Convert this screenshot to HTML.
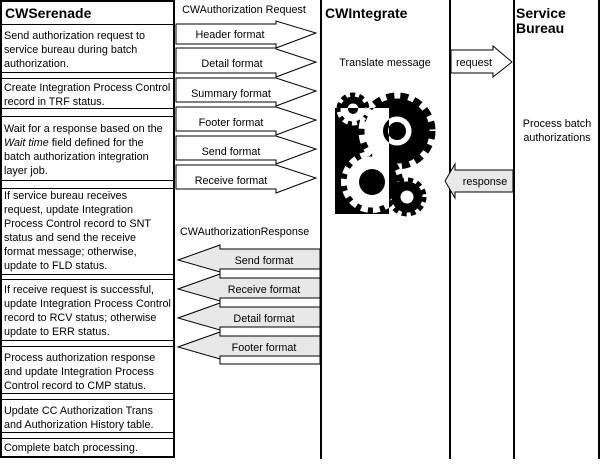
<!DOCTYPE html>
<html><head><meta charset="utf-8"><style>
html,body{margin:0;padding:0;background:#fff;}
svg text{font-family:"Liberation Sans",sans-serif;font-size:10.8px;fill:#000;}
.b{font-weight:bold;font-size:14px;}
</style></head><body>
<svg width="601" height="459" viewBox="0 0 601 459" xmlns="http://www.w3.org/2000/svg">
<defs>
<g id="gears">
  <circle cx="353" cy="109" r="12"/><circle cx="353" cy="109" r="14" fill="none" stroke-width="5" stroke-dasharray="5 4"/>
  <circle cx="397" cy="131" r="32"/><circle cx="397" cy="131" r="35" fill="none" stroke-width="7" stroke-dasharray="8 6"/>
  <circle cx="372" cy="182" r="25"/><circle cx="372" cy="182" r="28" fill="none" stroke-width="6" stroke-dasharray="7 5"/>
  <circle cx="407" cy="197" r="15"/><circle cx="407" cy="197" r="17" fill="none" stroke-width="5" stroke-dasharray="5 4"/>
</g>
<clipPath id="cr"><rect x="335" y="108" width="54" height="106"/></clipPath>
</defs>
<rect x="1" y="1" width="173" height="456" fill="none" stroke="#000" stroke-width="2"/>
<rect x="321" y="-2" width="129" height="470" fill="none" stroke="#000" stroke-width="2"/>
<rect x="514" y="-2" width="85" height="470" fill="none" stroke="#000" stroke-width="2"/>
<g stroke="#000" stroke-width="1">
<line x1="0" y1="24.5" x2="175" y2="24.5"/>
<line x1="0" y1="72.5" x2="175" y2="72.5"/><line x1="0" y1="78.5" x2="175" y2="78.5"/>
<line x1="0" y1="108.5" x2="175" y2="108.5"/><line x1="0" y1="116.5" x2="175" y2="116.5"/>
<line x1="0" y1="180.5" x2="175" y2="180.5"/><line x1="0" y1="188.5" x2="175" y2="188.5"/>
<line x1="0" y1="274.5" x2="175" y2="274.5"/><line x1="0" y1="279.5" x2="175" y2="279.5"/>
<line x1="0" y1="340.5" x2="175" y2="340.5"/><line x1="0" y1="346.5" x2="175" y2="346.5"/>
<line x1="0" y1="393.5" x2="175" y2="393.5"/><line x1="0" y1="399.5" x2="175" y2="399.5"/>
<line x1="0" y1="432.5" x2="175" y2="432.5"/><line x1="0" y1="438.5" x2="175" y2="438.5"/>
</g>
<text class="b" x="5" y="18">CWSerenade</text>
<text class="b" x="325" y="18">CWIntegrate</text>
<text class="b" x="516" y="18">Service</text>
<text class="b" x="516" y="33">Bureau</text>
<g>
<text x="4" y="39">Send authorization request to</text>
<text x="4" y="53">service bureau during batch</text>
<text x="4" y="67">authorization.</text>
<text x="4" y="91">Create Integration Process Control</text>
<text x="4" y="105">record in TRF status.</text>
<text x="4" y="132">Wait for a response based on the</text>
<text x="4" y="146"><tspan font-style="italic">Wait time</tspan> field defined for the</text>
<text x="4" y="160">batch authorization integration</text>
<text x="4" y="174">layer job.</text>
<text x="4" y="199">If service bureau receives</text>
<text x="4" y="213">request, update Integration</text>
<text x="4" y="227">Process Control record to SNT</text>
<text x="4" y="241">status and send the receive</text>
<text x="4" y="255">format message; otherwise,</text>
<text x="4" y="269">update to FLD status.</text>
<text x="4" y="293">If receive request is successful,</text>
<text x="4" y="307">update Integration Process Control</text>
<text x="4" y="321">record to RCV status; otherwise</text>
<text x="4" y="335">update to ERR status.</text>
<text x="4" y="361">Process authorization response</text>
<text x="4" y="375">and update Integration Process</text>
<text x="4" y="389">Control record to CMP status.</text>
<text x="4" y="414">Update CC Authorization Trans</text>
<text x="4" y="428">and Authorization History table.</text>
<text x="4" y="451">Complete batch processing.</text>
</g>
<text x="244" y="13" text-anchor="middle">CWAuthorization Request</text>
<g fill="#fff" stroke="#000" stroke-width="1">
<polygon points="176,24 276,24 276,21 316,33 276,48 276,44 176,44"/>
<polygon points="176,48 276,48 276,49 316,62 276,77 276,73 176,73"/>
<polygon points="176,78 276,78 276,78 316,91 276,106 276,102 176,102"/>
<polygon points="176,107 276,107 276,107 316,120 276,135 276,131 176,131"/>
<polygon points="176,136 276,136 276,136 316,149 276,164 276,160 176,160"/>
<polygon points="176,165 276,165 276,165 316,178 276,193 276,189 176,189"/>
</g>
<g text-anchor="middle">
<text x="230" y="38">Header format</text>
<text x="232" y="67">Detail format</text>
<text x="231" y="97">Summary format</text>
<text x="231" y="126">Footer format</text>
<text x="231" y="155">Send format</text>
<text x="231" y="184">Receive format</text>
</g>
<text x="180" y="235">CWAuthorizationResponse</text>
<g stroke="#000" stroke-width="1">
<polygon fill="#e8e8e8" points="320,249 220,249 220,245 178,260 220,272 220,269 320,269"/>
<rect x="220" y="269" width="100" height="9" fill="#fff"/>
<polygon fill="#e8e8e8" points="320,278 220,278 220,274 178,289 220,301 220,298 320,298"/>
<rect x="220" y="298" width="100" height="9" fill="#fff"/>
<polygon fill="#e8e8e8" points="320,307 220,307 220,303 178,318 220,330 220,327 320,327"/>
<rect x="220" y="327" width="100" height="9" fill="#fff"/>
<polygon fill="#e8e8e8" points="320,336 220,336 220,332 178,347 220,359 220,356 320,356"/>
<rect x="220" y="356" width="100" height="8" fill="#fff"/>
</g>
<g text-anchor="middle">
<text x="264" y="264">Send format</text>
<text x="264" y="293">Receive format</text>
<text x="264" y="322">Detail format</text>
<text x="264" y="351">Footer format</text>
</g>
<text x="385" y="66" text-anchor="middle">Translate message</text>
<text x="557" y="127" text-anchor="middle">Process batch</text>
<text x="557" y="141" text-anchor="middle">authorizations</text>
<polygon fill="#fff" stroke="#000" points="451,50 493,50 493,46 512,62 493,77 493,73 451,73"/>
<text x="474" y="66" text-anchor="middle">request</text>
<polygon fill="#e8e8e8" stroke="#000" points="513,170 455,170 455,164 445,181 455,198 455,192 513,192"/>
<text x="485" y="185" text-anchor="middle">response</text>
<g fill="#000" stroke="#000"><use href="#gears"/></g>
<g fill="#fff" stroke="#fff"><circle cx="397" cy="131" r="14"/><circle cx="372" cy="182" r="13" fill="#000" stroke="none"/><circle cx="407" cy="197" r="6"/><circle cx="353" cy="109" r="5"/></g>
<circle cx="397" cy="131" r="9" fill="#000"/>
<g clip-path="url(#cr)">
<rect x="335" y="108" width="54" height="106" fill="#000"/>
<g fill="#fff" stroke="#fff"><use href="#gears"/></g>
<circle cx="397" cy="131" r="14" fill="#000"/><circle cx="397" cy="131" r="9" fill="#fff"/>
<circle cx="372" cy="182" r="13" fill="#000"/>
<circle cx="353" cy="109" r="5" fill="#000"/>
</g>
</svg>
</body></html>
